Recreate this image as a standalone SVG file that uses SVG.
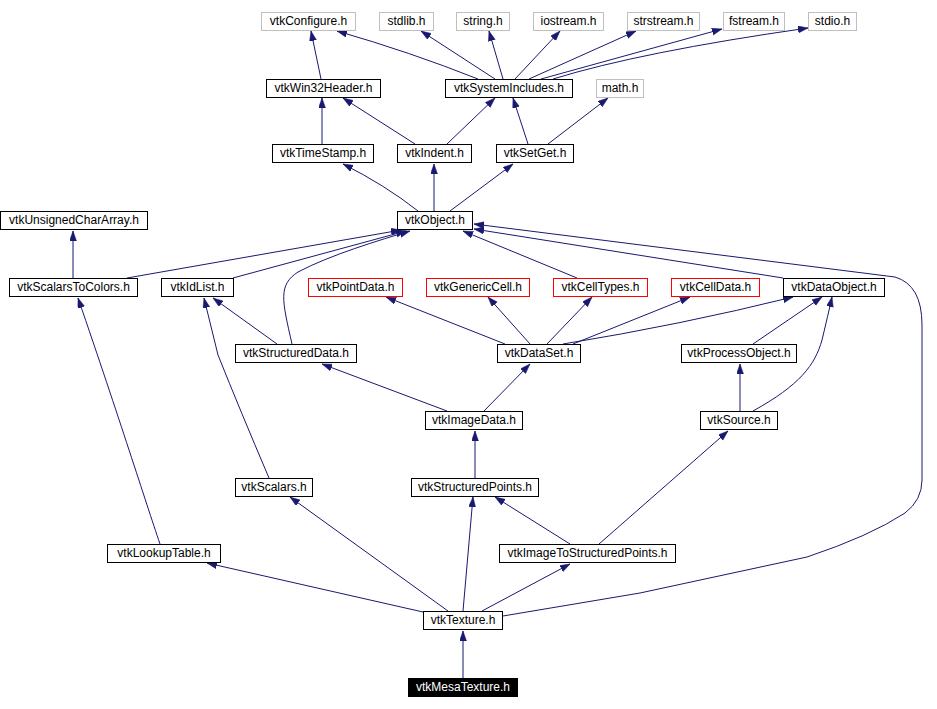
<svg xmlns="http://www.w3.org/2000/svg" width="937" height="709" viewBox="0 0 937 709">
<style>
.n rect{fill:#fff;stroke:#000;stroke-width:1}
.g rect{stroke:#bfbfbf}
.r rect{stroke:#ff0000}
.n text{font-family:"Liberation Sans",Arial,sans-serif;font-size:12px;text-anchor:middle;fill:#000}
.m rect{fill:#000}
.m text{fill:#fff}
#edges path{fill:none;stroke:#191970;stroke-width:1;marker-end:url(#a)}
</style>
<defs>
<marker id="a" markerUnits="userSpaceOnUse" markerWidth="11" markerHeight="8" refX="10" refY="3.5" orient="auto">
<path d="M0,0 L10,3.5 L0,7 z" fill="#191970" stroke="#191970" stroke-width="0.5"/>
</marker>
</defs>
<rect width="937" height="709" fill="#fff"/>
<g id="edges">
<path d="M321,79 L311,31"/>
<path d="M478,79 Q 410,52 337,31"/>
<path d="M495,79 L421,31"/>
<path d="M503,79 L489,31"/>
<path d="M515,79 L560,31"/>
<path d="M529,79 L636,31"/>
<path d="M541,79 L722,29"/>
<path d="M553,79 Q 640,52 808,28"/>
<path d="M322,144 L322,98"/>
<path d="M415,144 L343,98"/>
<path d="M447,144 L495,98"/>
<path d="M528,144 L513,98"/>
<path d="M548,144 L608,98"/>
<path d="M418,211 Q 385,185 343,164"/>
<path d="M434,211 L434,164"/>
<path d="M450,211 L513,164"/>
<path d="M73,278 L73,231"/>
<path d="M127,278 L401,230"/>
<path d="M233,278 L406,231"/>
<path d="M292,344 C 282,300 278,285 298,272 C 330,255 380,240 410,231"/>
<path d="M577,278 L463,231"/>
<path d="M783,278 L474,229"/>
<path d="M503,616 L640,593 L807,557 Q 870,536 905,513 Q 922,500 922,480 L922,325 Q 922,285 895,277 L474,224"/>
<path d="M505,344 L386,297"/>
<path d="M530,344 L488,297"/>
<path d="M547,344 L592,297"/>
<path d="M573,344 L690,297"/>
<path d="M563,344 Q 680,325 793,297"/>
<path d="M753,344 L822,297"/>
<path d="M753,411 C 800,385 815,365 822,340 Q 828,315 832,297"/>
<path d="M740,411 L740,364"/>
<path d="M484,411 L530,364"/>
<path d="M447,411 L322,364"/>
<path d="M277,344 L213,298"/>
<path d="M269,478 Q 240,410 218,355 L204,298"/>
<path d="M160,544 C 145,500 120,420 78,298"/>
<path d="M475,478 L475,431"/>
<path d="M570,544 L495,497"/>
<path d="M599,544 L728,431"/>
<path d="M423,612 L207,563"/>
<path d="M448,611 L290,497"/>
<path d="M463,611 L473,497"/>
<path d="M482,611 L570,564"/>
<path d="M463,678 L463,631"/>
</g>
<g id="vtkConfigure" class="n g"><rect x="261.5" y="12.5" width="94" height="18"/><text x="308.5" y="25">vtkConfigure.h</text></g>
<g id="stdlib" class="n g"><rect x="379.5" y="12.5" width="54" height="18"/><text x="406.5" y="25">stdlib.h</text></g>
<g id="string" class="n g"><rect x="456.5" y="12.5" width="53" height="18"/><text x="483" y="25">string.h</text></g>
<g id="iostream" class="n g"><rect x="533.5" y="12.5" width="70" height="18"/><text x="568.5" y="25">iostream.h</text></g>
<g id="strstream" class="n g"><rect x="627.5" y="12.5" width="72" height="18"/><text x="663.5" y="25">strstream.h</text></g>
<g id="fstream" class="n g"><rect x="723.5" y="12.5" width="61" height="18"/><text x="754" y="25">fstream.h</text></g>
<g id="stdio" class="n g"><rect x="808.5" y="12.5" width="48" height="18"/><text x="832.5" y="25">stdio.h</text></g>
<g id="vtkWin32Header" class="n"><rect x="266.5" y="79.5" width="114" height="18"/><text x="323.5" y="92">vtkWin32Header.h</text></g>
<g id="vtkSystemIncludes" class="n"><rect x="445.5" y="79.5" width="127" height="18"/><text x="509" y="92">vtkSystemIncludes.h</text></g>
<g id="math" class="n g"><rect x="596.5" y="79.5" width="47" height="18"/><text x="620" y="92">math.h</text></g>
<g id="vtkTimeStamp" class="n"><rect x="272.5" y="144.5" width="101" height="18"/><text x="323" y="157">vtkTimeStamp.h</text></g>
<g id="vtkIndent" class="n"><rect x="397.5" y="144.5" width="74" height="18"/><text x="434.5" y="157">vtkIndent.h</text></g>
<g id="vtkSetGet" class="n"><rect x="496.5" y="144.5" width="77" height="18"/><text x="535" y="157">vtkSetGet.h</text></g>
<g id="vtkUnsignedCharArray" class="n"><rect x="0.5" y="211.5" width="147" height="18"/><text x="74" y="224">vtkUnsignedCharArray.h</text></g>
<g id="vtkObject" class="n"><rect x="397.5" y="211.5" width="75" height="18"/><text x="435" y="224">vtkObject.h</text></g>
<g id="vtkScalarsToColors" class="n"><rect x="9.5" y="278.5" width="128" height="18"/><text x="73.5" y="291">vtkScalarsToColors.h</text></g>
<g id="vtkIdList" class="n"><rect x="161.5" y="278.5" width="72" height="18"/><text x="197.5" y="291">vtkIdList.h</text></g>
<g id="vtkPointData" class="n r"><rect x="308.5" y="278.5" width="94" height="18"/><text x="355.5" y="291">vtkPointData.h</text></g>
<g id="vtkGenericCell" class="n r"><rect x="426.5" y="278.5" width="103" height="18"/><text x="478" y="291">vtkGenericCell.h</text></g>
<g id="vtkCellTypes" class="n r"><rect x="553.5" y="278.5" width="94" height="18"/><text x="600.5" y="291">vtkCellTypes.h</text></g>
<g id="vtkCellData" class="n r"><rect x="671.5" y="278.5" width="88" height="18"/><text x="715.5" y="291">vtkCellData.h</text></g>
<g id="vtkDataObject" class="n"><rect x="783.5" y="278.5" width="101" height="18"/><text x="834" y="291">vtkDataObject.h</text></g>
<g id="vtkStructuredData" class="n"><rect x="235.5" y="344.5" width="121" height="18"/><text x="296" y="357">vtkStructuredData.h</text></g>
<g id="vtkDataSet" class="n"><rect x="497.5" y="344.5" width="83" height="18"/><text x="539" y="357">vtkDataSet.h</text></g>
<g id="vtkProcessObject" class="n"><rect x="681.5" y="344.5" width="115" height="18"/><text x="739" y="357">vtkProcessObject.h</text></g>
<g id="vtkImageData" class="n"><rect x="425.5" y="411.5" width="97" height="18"/><text x="474" y="424">vtkImageData.h</text></g>
<g id="vtkSource" class="n"><rect x="700.5" y="411.5" width="77" height="18"/><text x="739" y="424">vtkSource.h</text></g>
<g id="vtkScalars" class="n"><rect x="235.5" y="478.5" width="77" height="18"/><text x="274" y="491">vtkScalars.h</text></g>
<g id="vtkStructuredPoints" class="n"><rect x="411.5" y="478.5" width="127" height="18"/><text x="475" y="491">vtkStructuredPoints.h</text></g>
<g id="vtkLookupTable" class="n"><rect x="107.5" y="544.5" width="113" height="18"/><text x="164" y="557">vtkLookupTable.h</text></g>
<g id="vtkImageToStructuredPoints" class="n"><rect x="499.5" y="544.5" width="176" height="18"/><text x="587.5" y="557">vtkImageToStructuredPoints.h</text></g>
<g id="vtkTexture" class="n"><rect x="423.5" y="611.5" width="79" height="18"/><text x="463" y="624">vtkTexture.h</text></g>
<g id="vtkMesaTexture" class="n m"><rect x="408.5" y="678.5" width="109" height="18"/><text x="463" y="691">vtkMesaTexture.h</text></g>
</svg>
